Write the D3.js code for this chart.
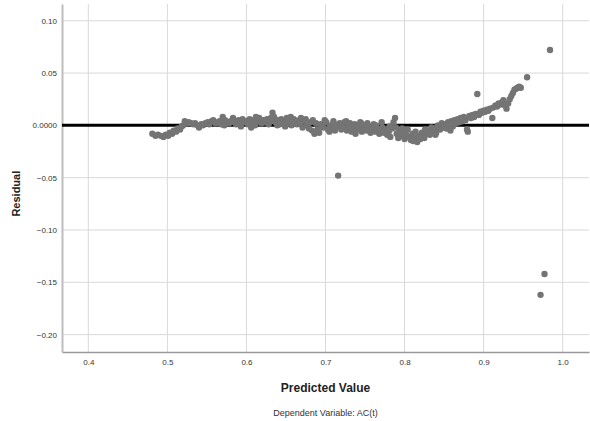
<!DOCTYPE html>
<html>
<head>
<meta charset="utf-8">
<script src="https://cdn.jsdelivr.net/npm/d3@7"></script>
<style>
  body { margin: 0; background: #fff; }
  text { font-family: "Liberation Sans", Arial, sans-serif; }
</style>
</head>
<body>
<div id="chart"></div>
<script>
// Predicted values (x) and residuals (y)
const predicted = [
  0.481,0.485,0.488,0.492,0.495,0.498,0.501,0.503,0.506,0.508,0.511,0.513,0.516,0.518,0.520,
  0.522,0.525,0.527,0.530,0.533,0.535,0.538,0.540,0.543,0.545,0.548,0.551,0.553,0.556,0.558,
  0.561,0.564,0.566,0.568,0.570,0.573,0.575,0.578,0.580,0.583,0.585,0.587,0.590,0.592,0.595,
  0.597,0.600,0.602,0.604,0.607,0.609,0.611,0.614,0.616,0.619,0.621,0.623,0.626,0.628,0.630,
  0.633,0.635,0.637,0.640,0.642,0.644,0.646,0.648,0.651,0.653,0.655,0.657,0.660,0.662,0.664,
  0.667,0.669,0.671,0.673,0.675,0.677,0.679,0.681,0.683,0.686,0.688,0.690,0.692,0.694,0.697,
  0.699,0.701,0.703,0.706,0.708,0.710,0.712,0.714,0.716,0.718,0.720,0.722,0.724,0.727,0.729,
  0.731,0.733,0.735,0.737,0.740,0.742,0.744,0.746,0.748,0.750,0.752,0.755,0.757,0.759,0.761,
  0.763,0.765,0.768,0.770,0.772,0.774,0.776,0.778,0.780,0.782,0.784,0.786,0.788,0.790,0.792,
  0.794,0.796,0.798,0.800,0.802,0.804,0.806,0.808,0.810,0.812,0.814,0.816,0.818,0.820,0.822,
  0.824,0.826,0.828,0.830,0.832,0.834,0.836,0.838,0.840,0.842,0.845,0.847,0.849,0.851,0.853,
  0.855,0.857,0.859,0.861,0.863,0.865,0.867,0.869,0.871,0.873,0.875,0.877,0.879,0.880,0.882,
  0.884,0.886,0.888,0.890,0.892,0.894,0.896,0.898,0.900,0.902,0.904,0.906,0.908,0.911,0.912,
  0.915,0.917,0.919,0.921,0.923,0.925,0.927,0.929,0.931,0.933,0.935,0.937,0.939,0.941,0.943,
  0.945,0.947,0.955,0.984,0.977,0.972,
  0.593,0.612,0.631,0.649,0.668,0.705,0.726,0.745,0.764,0.781,0.797,0.811,0.825,0.839,0.858,
  0.572,0.606,0.639,0.656,0.684,0.711,0.738,0.753,0.771,0.789
];
const residual = [
  -0.008,-0.010,-0.009,-0.010,-0.011,-0.009,-0.010,-0.007,-0.008,-0.005,-0.006,-0.003,-0.004,-0.001,0.000,
  0.004,0.002,0.003,0.002,0.001,0.002,0.000,-0.002,0.001,0.000,0.002,0.003,0.001,0.004,0.005,
  0.002,0.003,0.004,0.001,0.008,0.005,0.003,0.002,0.004,0.007,0.003,0.001,0.005,0.002,0.006,
  0.003,0.004,0.001,0.006,0.003,0.005,0.000,0.004,0.007,0.002,0.005,0.003,0.006,0.001,0.004,
  0.012,0.008,0.003,0.005,0.001,0.006,0.004,0.002,0.007,0.003,0.005,0.000,0.006,0.003,0.001,
  0.005,0.007,-0.002,0.004,0.006,0.000,-0.003,0.003,-0.005,-0.008,0.002,-0.004,-0.007,0.001,-0.002,
  0.005,0.003,-0.004,0.000,-0.003,0.004,-0.005,-0.001,-0.048,0.002,-0.004,-0.002,0.003,-0.005,-0.001,
  0.002,-0.006,-0.003,0.001,-0.004,-0.002,0.003,-0.006,-0.003,0.000,-0.005,-0.002,-0.007,-0.004,0.001,
  -0.006,-0.003,-0.008,-0.005,-0.002,-0.007,-0.004,-0.009,-0.006,-0.011,-0.003,0.003,0.007,-0.008,-0.012,
  -0.005,-0.010,-0.007,-0.013,-0.009,-0.004,-0.011,-0.014,-0.008,-0.012,-0.006,-0.016,-0.010,-0.013,-0.007,
  -0.010,-0.004,-0.008,-0.005,-0.009,-0.002,-0.006,-0.003,-0.007,0.000,-0.004,0.002,-0.002,0.001,-0.003,
  0.003,0.000,0.004,-0.001,0.005,0.002,0.006,0.003,0.007,0.004,0.008,0.005,-0.004,-0.006,0.009,
  0.007,0.010,0.008,0.011,0.030,0.010,0.013,0.012,0.014,0.013,0.015,0.014,0.016,0.007,0.017,
  0.019,0.018,0.021,0.020,0.022,0.024,0.019,0.016,0.021,0.025,0.028,0.031,0.034,0.035,0.036,
  0.037,0.036,0.046,0.072,-0.142,-0.162,
  -0.001,0.008,0.007,-0.001,0.002,-0.006,0.004,0.002,0.000,-0.001,-0.003,-0.015,-0.012,-0.009,-0.005,
  0.000,-0.002,0.000,0.008,0.005,0.001,-0.008,0.002,0.003,-0.002
];
const xTicks = [0.4, 0.5, 0.6, 0.7, 0.8, 0.9, 1.0];
const yTicks = [0.10, 0.05, 0.00, -0.05, -0.10, -0.15, -0.20];

const points = predicted.map((p, i) => ({ p, r: residual[i] }));

const W = 590, H = 421;
const margin = { top: 4, right: 1, bottom: 69, left: 62 };
const width = W - margin.left - margin.right;
const height = H - margin.top - margin.bottom;

const svg = d3.select("#chart").append("svg")
  .attr("width", W)
  .attr("height", H);

const g = svg.append("g")
  .attr("transform", `translate(${margin.left},${margin.top})`);

const x = d3.scaleLinear().domain([0.3667, 1.0333]).range([0, width]);
const y = d3.scaleLinear().domain([-0.2166, 0.116]).range([height, 0]);

// grid
g.append("g")
  .selectAll("line")
  .data(xTicks)
  .join("line")
  .attr("x1", d => x(d)).attr("x2", d => x(d))
  .attr("y1", 0).attr("y2", height)
  .attr("stroke", "#d9d9d9").attr("stroke-width", 1);

g.append("g")
  .selectAll("line")
  .data(yTicks)
  .join("line")
  .attr("x1", 0).attr("x2", width)
  .attr("y1", d => y(d)).attr("y2", d => y(d))
  .attr("stroke", "#d9d9d9").attr("stroke-width", 1);

// axes (labels only, no tick marks)
const xAxis = g.append("g")
  .attr("transform", `translate(0,${height})`)
  .call(d3.axisBottom(x).tickValues(xTicks).tickSize(0).tickPadding(7).tickFormat(d3.format(".1f")));
xAxis.select(".domain").attr("stroke", "#999").attr("stroke-width", 1.5);

const yAxis = g.append("g")
  .call(d3.axisLeft(y).tickValues(yTicks).tickSize(0).tickPadding(5)
    .tickFormat(d => d === 0 ? "0.0000" : d3.format(".2f")(d)));
yAxis.select(".domain").attr("stroke", "#bdbdbd").attr("stroke-width", 2);

g.selectAll(".tick text")
  .attr("fill", "#333")
  .style("font-size", "8px");

// reference line at zero
g.append("line")
  .attr("x1", 0).attr("x2", width)
  .attr("y1", y(0)).attr("y2", y(0))
  .attr("stroke", "#000").attr("stroke-width", 3);

// points
g.selectAll(".dot")
  .data(points)
  .join("circle")
  .attr("class", "dot")
  .attr("cx", d => x(d.p))
  .attr("cy", d => y(d.r))
  .attr("r", 3.2)
  .attr("fill", "#747474");

// axis titles
g.append("text")
  .attr("x", width / 2)
  .attr("y", height + 40)
  .attr("text-anchor", "middle")
  .style("font-size", "12px")
  .style("font-weight", "bold")
  .attr("fill", "#222")
  .text("Predicted Value");

g.append("text")
  .attr("transform", "rotate(-90)")
  .attr("x", -(y(-0.05) + 16))
  .attr("y", -42)
  .attr("text-anchor", "middle")
  .style("font-size", "11px")
  .style("font-weight", "bold")
  .attr("fill", "#222")
  .text("Residual");

g.append("text")
  .attr("x", width / 2)
  .attr("y", height + 64)
  .attr("text-anchor", "middle")
  .style("font-size", "9px")
  .attr("fill", "#333")
  .text("Dependent Variable: AC(t)");
</script>
</body>
</html>
